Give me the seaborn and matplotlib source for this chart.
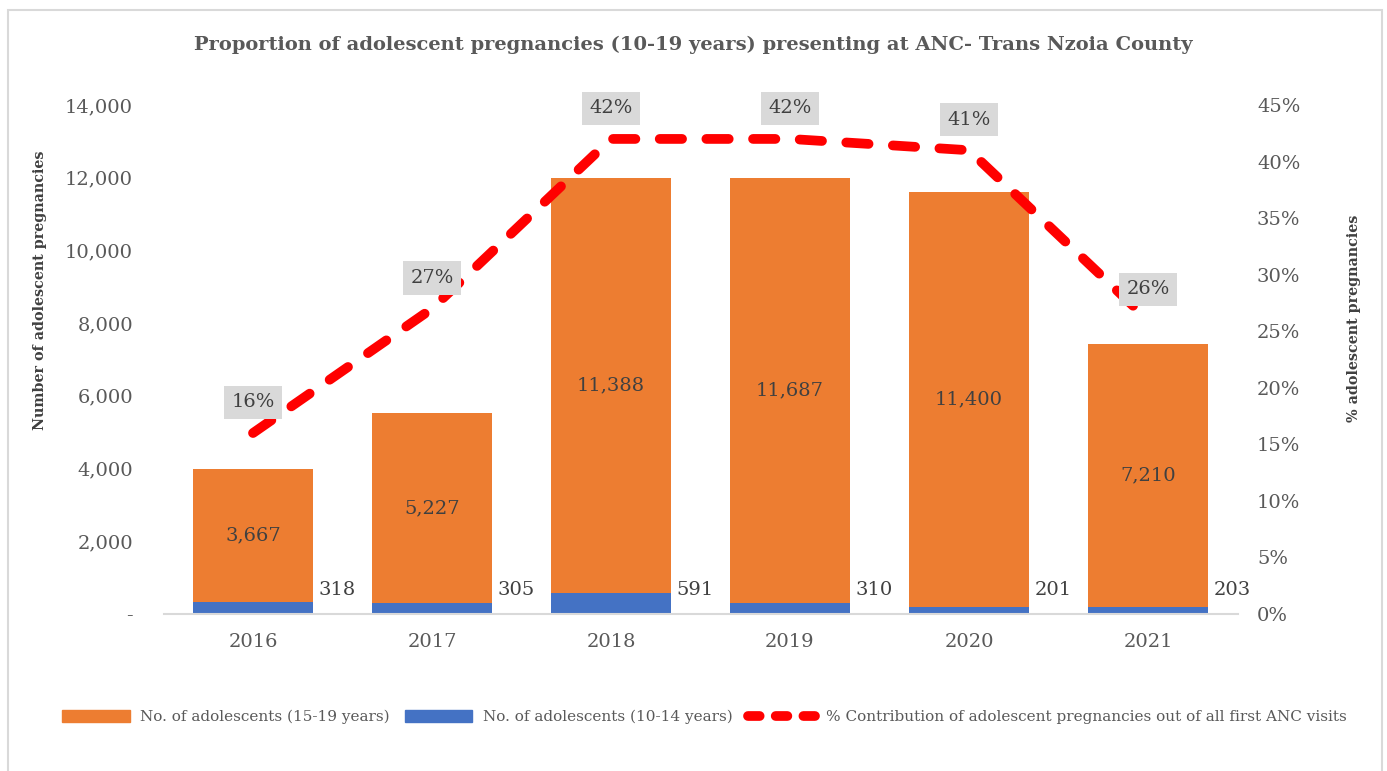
import matplotlib
matplotlib.use("Agg")
import matplotlib.pyplot as plt
import matplotlib.patches as mpatches
from matplotlib.lines import Line2D
from matplotlib.ticker import FuncFormatter, FixedLocator
import seaborn as sns
import pandas as pd

# ---- data ----
years = ["2016", "2017", "2018", "2019", "2020", "2021"]
adol_15_19 = [3667, 5227, 11388, 11687, 11400, 7210]
adol_10_14 = [318, 305, 591, 310, 201, 203]
pct_first_anc = [16, 27, 42, 42, 41, 26]

title = "Proportion of adolescent pregnancies (10-19 years) presenting at ANC- Trans Nzoia County"
ylabel_left = "Number of adolescent pregnancies"
ylabel_right = "% adolescent pregnancies"
leg_labels = ["No. of adolescents (15-19 years)", "No. of adolescents (10-14 years)",
              "% Contribution of adolescent pregnancies out of all first ANC visits"]

ORANGE = "#ED7D31"
BLUE = "#4472C4"
RED = "#FF0000"
TXT = "#404040"
TICK = "#595959"

sns.set_theme(style="white")
plt.rcParams["font.family"] = ["DejaVu Serif", "Liberation Serif"]

df = pd.DataFrame({"year": years, "y1519": adol_15_19, "y1014": adol_10_14,
                   "pct": pct_first_anc})
df["total"] = df["y1519"] + df["y1014"]

fig = plt.figure(figsize=(13.87, 7.71), dpi=100)
ax = fig.add_axes([163.5 / 1387, 1 - 614 / 771, (1237.5 - 163.5) / 1387, (614 - 105) / 771])

sns.barplot(data=df, x="year", y="total", color=ORANGE, width=0.67, ax=ax,
            saturation=1, edgecolor="none", linewidth=0)
sns.barplot(data=df, x="year", y="y1014", color=BLUE, width=0.67, ax=ax,
            saturation=1, edgecolor="none", linewidth=0)

FS = 14
ax.set_ylim(0, 14000)
ax.set_xlim(-0.5, len(years) - 0.5)
ax.yaxis.set_major_locator(FixedLocator(range(0, 14001, 2000)))
ax.yaxis.set_major_formatter(FuncFormatter(lambda v, p: "-" if v == 0 else f"{int(v):,}"))
ax.tick_params(axis="y", length=0, pad=22, labelsize=FS, labelcolor=TICK)
ax.tick_params(axis="x", length=0, pad=14, labelsize=FS, labelcolor=TICK)
ax.set_xlabel("")
ax.set_ylabel(ylabel_left, fontsize=10.3, fontweight="bold", color=TXT)
ax.yaxis.set_label_coords(-0.1085, 0.636)
for s in ["top", "left", "right"]:
    ax.spines[s].set_visible(False)
ax.spines["bottom"].set_color("#D9D9D9")
ax.spines["bottom"].set_linewidth(1.5)

# bar labels
for i in range(len(years)):
    ax.text(i, adol_10_14[i] + adol_15_19[i] / 2, f"{adol_15_19[i]:,}", ha="center",
            va="center", fontsize=FS, color=TXT)
    ax.text(i + 0.47, 650, f"{adol_10_14[i]:,}", ha="center", va="center",
            fontsize=FS, color=TXT)

# secondary axis line
ax2 = ax.twinx()
sns.lineplot(x=list(range(len(years))), y=pct_first_anc, ax=ax2, color=RED,
             linewidth=7, linestyle=(0, (2.3, 2.5)), dash_capstyle="round",
             solid_capstyle="round")
ax2.set_ylim(0, 45)
ax2.yaxis.set_major_locator(FixedLocator(range(0, 46, 5)))
ax2.yaxis.set_major_formatter(FuncFormatter(lambda v, p: f"{int(v)}%"))
ax2.tick_params(axis="y", length=0, pad=14, labelsize=FS, labelcolor=TICK)
ax2.set_ylabel(ylabel_right, fontsize=10.3, fontweight="bold", color=TXT)
ax2.yaxis.set_label_coords(1.102, 0.58)
for s in ax2.spines.values():
    s.set_visible(False)
ax2.grid(False)
ax.grid(False)

for i, v in enumerate(pct_first_anc):
    ax2.annotate(f"{v}%", (i, v), xytext=(0, 22), textcoords="offset points",
                 ha="center", va="center", fontsize=FS, color=TXT,
                 bbox=dict(boxstyle="square,pad=0.4", fc="#D9D9D9", ec="none"))

fig.text(0.5, 1 - 45 / 771, title, ha="center", va="center", fontsize=14,
         fontweight="bold", color=TICK)

handles = [mpatches.Patch(color=ORANGE), mpatches.Patch(color=BLUE),
           Line2D([0], [0], color=RED, linewidth=7, linestyle=(0, (1.2, 1.65)),
                  dash_capstyle="round")]
fig.legend(handles, leg_labels, loc="center", bbox_to_anchor=(0.508, 1 - 717 / 771),
           ncol=3, frameon=False, fontsize=11, labelcolor=TICK, handlelength=4.4,
           handleheight=0.9, columnspacing=1.0, handletextpad=0.7)

fig.patches.append(mpatches.Rectangle((8 / 1387, -0.05), (1382 - 8) / 1387, 1.05 - 10 / 771,
                                      transform=fig.transFigure, fill=False,
                                      ec="#D9D9D9", lw=1.5))

fig.savefig("out.png", dpi=100, facecolor="white")
